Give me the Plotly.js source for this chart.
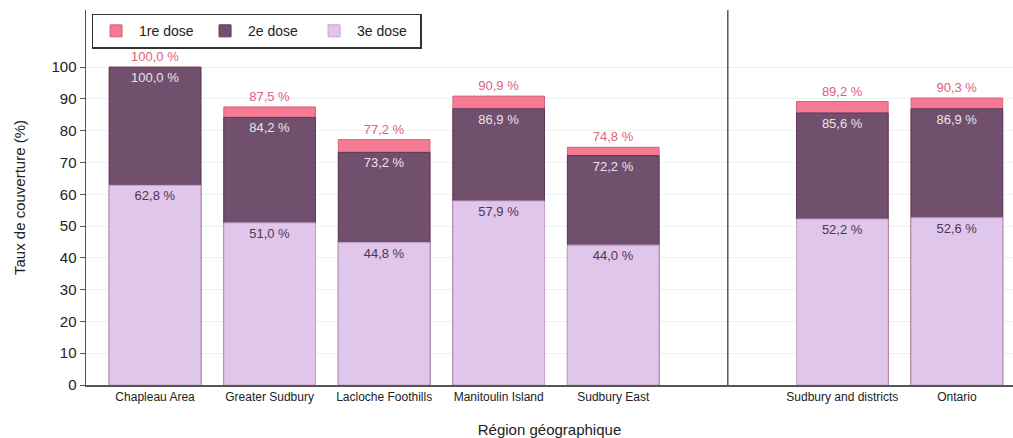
<!DOCTYPE html>
<html>
<head>
<meta charset="utf-8">
<script src="https://cdn.plot.ly/plotly-3.0.1.min.js"></script>
<style>html,body{margin:0;padding:0;background:#fff;}#chart{width:1013px;height:438px;}</style>
</head>
<body>
<div id="chart"></div>
<script>
// Categories (slot 5 is the empty gap with the separator line)
const categories = ["Chapleau Area", "Greater Sudbury", "Lacloche Foothills", "Manitoulin Island", "Sudbury East", "Sudbury and districts", "Ontario"];
const slots = [0, 1, 2, 3, 4, 6, 7];
const dose1 = [100.0, 87.5, 77.2, 90.9, 74.8, 89.2, 90.3];
const dose2 = [100.0, 84.2, 73.2, 86.9, 72.2, 85.6, 86.9];
const dose3 = [62.8, 51.0, 44.8, 57.9, 44.0, 52.2, 52.6];
const yTicks = [0, 10, 20, 30, 40, 50, 60, 70, 80, 90, 100];

const fmt = v => v.toFixed(1).replace('.', ',') + ' %';
const FONT = "Liberation Sans, Arial, sans-serif";

const common = {
  type: 'bar', x: slots, width: 0.8, textangle: 0, constraintext: 'none',
  cliponaxis: false, hoverinfo: 'skip'
};

const traces = [
  Object.assign({}, common, {
    name: '1re dose', y: dose1, text: dose1.map(fmt), textposition: 'outside',
    marker: {color: '#f57a93', line: {color: '#d8607a', width: 1}},
    outsidetextfont: {color: '#e0607b', size: 13, family: FONT}
  }),
  Object.assign({}, common, {
    name: '2e dose', y: dose2, text: dose2.map(fmt), textposition: 'inside', insidetextanchor: 'end',
    marker: {color: '#71506e', line: {color: '#5a3a58', width: 1}},
    insidetextfont: {color: '#ece2ec', size: 13, family: FONT}
  }),
  Object.assign({}, common, {
    name: '3e dose', y: dose3, text: dose3.map(fmt), textposition: 'inside', insidetextanchor: 'end',
    marker: {color: '#dfc6ea', line: {color: '#c4a6c9', width: 1}},
    insidetextfont: {color: '#4e3650', size: 13, family: FONT}
  })
];

const layout = {
  width: 1013, height: 438,
  margin: {l: 86, r: 0, t: 10, b: 53},
  barmode: 'overlay',
  paper_bgcolor: '#fff', plot_bgcolor: '#fff',
  font: {family: FONT, color: '#222'},
  showlegend: true,
  legend: {
    orientation: 'h', x: 0.006, y: 0.99, xanchor: 'left', yanchor: 'top',
    bordercolor: '#333', borderwidth: 1.5, bgcolor: '#fff',
    font: {size: 14, color: '#222', family: FONT}, traceorder: 'normal',
    itemwidth: 36, entrywidth: 58, entrywidthmode: 'pixels'
  },
  xaxis: {
    range: [-0.603, 7.49], tickvals: slots, ticktext: categories,
    tickfont: {size: 12, color: '#222'}, showgrid: false, zeroline: false,
    showline: true, linecolor: '#555', linewidth: 1.5, ticks: '',
    title: {text: 'Région géographique', font: {size: 15, color: '#222'}, standoff: 24}
  },
  yaxis: {
    range: [0, 118], tickvals: yTicks, tickfont: {size: 15, color: '#222'},
    showgrid: true, gridcolor: '#e9f1f1', gridwidth: 1, zeroline: false,
    showline: true, linecolor: '#555', linewidth: 1.5, ticks: 'outside', ticklen: 5,
    tickcolor: '#555',
    title: {text: 'Taux de couverture (%)', font: {size: 15, color: '#222'}, standoff: 22}
  },
  shapes: [{
    type: 'line', xref: 'x', yref: 'paper', x0: 5, x1: 5, y0: 0, y1: 1,
    line: {color: '#555', width: 1.5}
  }]
};

Plotly.newPlot('chart', traces, layout, {displayModeBar: false, staticPlot: true});
</script>
</body>
</html>
